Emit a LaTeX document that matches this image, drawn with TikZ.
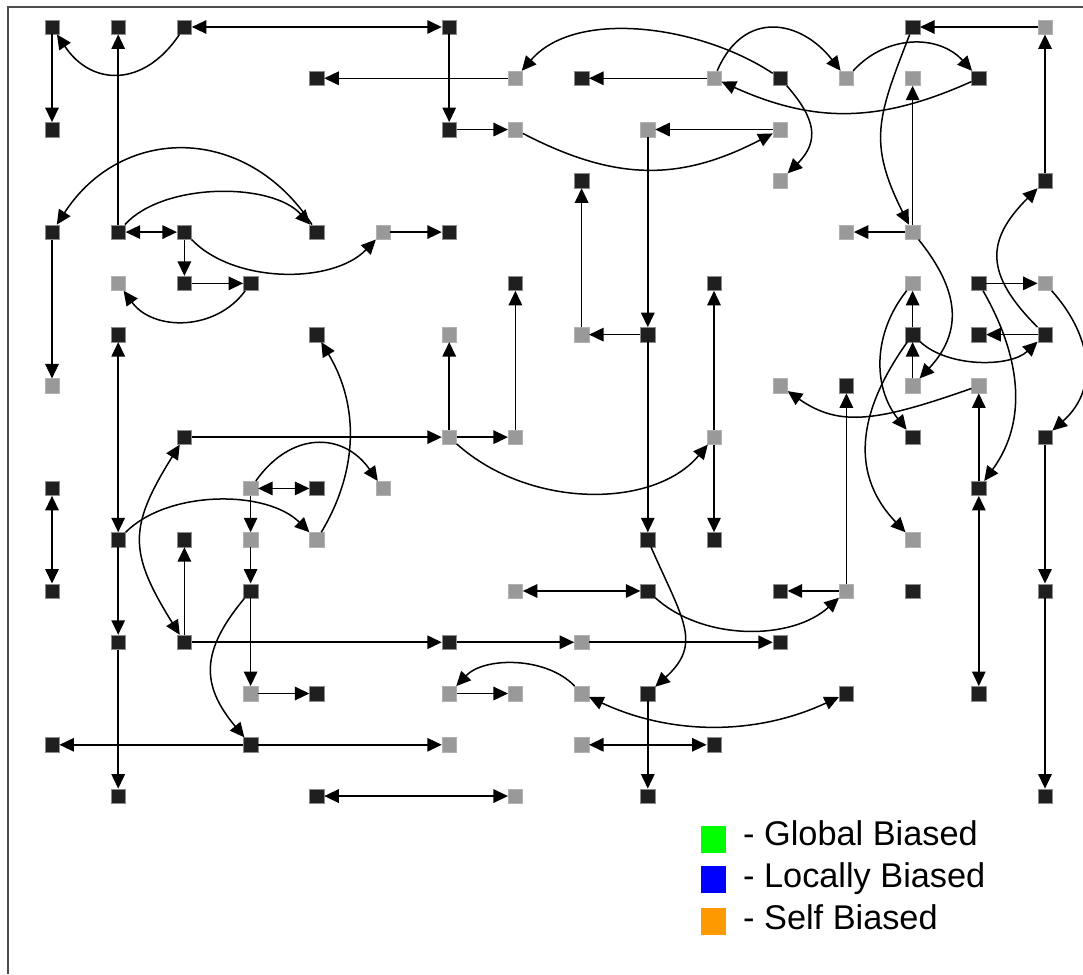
\documentclass[tikz,border=0pt]{standalone}
\usepackage{fontspec}
\setmainfont{Liberation Sans}
\usetikzlibrary{arrows.meta}
\tikzset{
  bk/.style={rectangle,fill=black!88,draw=black!45,line width=0.4pt,minimum size=14.5pt,inner sep=0pt},
  gy/.style={rectangle,fill=black!40,draw=black!30,line width=0.4pt,minimum size=14.5pt,inner sep=0pt},
  ar/.style={-{Triangle[length=14.5pt,width=13.5pt]},line width=1.5pt},
  br/.style={{Triangle[length=14.5pt,width=13.5pt]}-{Triangle[length=14.5pt,width=13.5pt]},line width=1.5pt},
  legsq/.style={rectangle,minimum width=25pt,minimum height=27pt,inner sep=0pt},
  legtx/.style={anchor=base west,inner sep=0pt,font=\fontsize{34.3}{40}\selectfont}
}
\begin{document}
\begin{tikzpicture}[x=1pt,y=-1pt]
\useasboundingbox (0,0) rectangle (1083,974);
\fill[white] (0,0) rectangle (1083,974);
\draw[black!70,line width=1.6pt] (1083,7) -- (8,7) -- (8,974);
% dark nodes
\foreach \c/\r in {0/0,1/0,2/0,6/0,13/0,
  4/1,8/1,11/1,14/1,
  0/2,6/2,
  8/3,15/3,
  0/4,1/4,2/4,4/4,6/4,
  2/5,3/5,7/5,10/5,14/5,
  1/6,4/6,9/6,13/6,14/6,15/6,
  12/7,
  2/8,13/8,15/8,
  0/9,4/9,14/9,
  1/10,2/10,9/10,10/10,
  0/11,3/11,9/11,11/11,13/11,15/11,
  1/12,2/12,6/12,11/12,
  4/13,9/13,12/13,14/13,
  0/14,3/14,10/14,
  1/15,4/15,9/15,15/15}
  \node[bk] (n\c-\r) at ({52+66.2*\c},{27+51.27*\r}) {};
% gray nodes
\foreach \c/\r in {15/0,
  7/1,10/1,12/1,13/1,
  7/2,9/2,11/2,
  11/3,
  5/4,12/4,13/4,
  1/5,13/5,15/5,
  6/6,8/6,
  0/7,11/7,13/7,14/7,
  6/8,7/8,10/8,
  3/9,5/9,
  3/10,4/10,13/10,
  7/11,12/11,
  8/12,
  3/13,6/13,7/13,8/13,
  6/14,8/14,
  7/15}
  \node[gy] (n\c-\r) at ({52+66.2*\c},{27+51.27*\r}) {};
% straight one-way
\foreach \a/\b in {0-0/0-2,1-4/1-0,7-1/4-1,6-0/6-2,6-2/7-2,2-4/2-5,5-4/6-4,0-4/0-7,
  2-5/3-5,2-8/6-8,3-9/3-10,1-10/1-12,2-12/2-10,3-10/3-11,3-11/3-13,3-13/4-13,
  2-12/6-12,6-12/8-12,8-12/11-12,3-14/0-14,3-14/6-14,1-12/1-15,6-13/7-13,9-13/9-15,
  6-8/6-6,6-8/7-8,7-8/7-5,9-6/8-6,8-6/8-3,9-2/9-6,9-6/9-10,10-8/10-5,10-8/10-10,
  11-2/9-2,10-1/8-1,15-0/13-0,15-3/15-0,13-4/13-1,13-4/12-4,14-5/15-5,15-6/14-6,
  13-6/13-5,13-7/13-6,12-11/12-7,14-9/14-7,15-8/15-11,15-11/15-15,12-11/11-11}
  \draw[ar] (n\a) -- (n\b);
% straight two-way
\foreach \a/\b in {2-0/6-0,1-4/2-4,1-6/1-10,3-9/4-9,0-9/0-11,4-15/7-15,7-11/9-11,8-14/10-14,14-9/14-13}
  \draw[br] (n\a) -- (n\b);
% curves
\draw[ar] (n2-0) .. controls +(-40,60) and +(40,60) .. (n0-0);
\draw[ar] (n4-4) .. controls +(-70,-108) and +(70,-108) .. (n0-4);
\draw[ar] (n1-4) .. controls +(45,-50) and +(-45,-50) .. (n4-4);
\draw[ar] (n2-4) .. controls +(50,52) and +(-50,52) .. (n5-4);
\draw[ar] (n3-5) .. controls +(-35,48) and +(35,48) .. (n1-5);
\draw[ar] (n4-10) .. controls +(42,-70) and +(42,70) .. (n4-6);
\draw[ar] (n3-9) .. controls +(40,-57) and +(-40,-57) .. (n5-9);
\draw[ar] (n1-10) .. controls +(50,-50) and +(-50,-50) .. (n4-10);
\draw[br] (n2-8) .. controls +(-56,90) and +(-56,-90) .. (n2-12);
\draw[ar] (n3-11) .. controls +(-50,60) and +(-50,-60) .. (n3-14);
\draw[ar] (n9-10) .. controls +(35,80) and +(55,-50) .. (n9-13);
\draw[ar] (n9-11) .. controls +(55,50) and +(-55,50) .. (n12-11);
\draw[br] (n8-13) .. controls +(90,42) and +(-90,42) .. (n12-13);
\draw[ar] (n8-13) .. controls +(-35,-37) and +(35,-37) .. (n6-13);
\draw[ar] (n6-8) .. controls +(80,72) and +(-60,72) .. (n10-8);
\draw[ar] (n7-2) .. controls +(100,52) and +(-100,52) .. (n11-2);
\draw[ar] (n11-1) .. controls +(-80,-53) and +(60,-70) .. (n7-1);
\draw[ar] (n10-1) .. controls +(30,-70) and +(-45,-58) .. (n12-1);
\draw[ar] (n14-1) .. controls +(-100,45) and +(100,45) .. (n10-1);
\draw[ar] (n11-1) .. controls +(35,40) and +(40,-40) .. (n11-3);
\draw[ar] (n12-1) .. controls +(40,-44) and +(-40,-44) .. (n14-1);
\draw[ar] (n13-0) .. controls +(-35,90) and +(-45,-90) .. (n13-4);
\draw[ar] (n13-4) .. controls +(40,50) and +(56,-60) .. (n13-7);
\draw[ar] (n13-5) .. controls +(-40,50) and +(-40,-50) .. (n13-8);
\draw[ar] (n13-6) .. controls +(-50,70) and +(-67,-70) .. (n13-10);
\draw[ar] (n13-6) .. controls +(35,33) and +(-35,33) .. (n15-6);
\draw[ar] (n14-7) .. controls +(-100,35) and +(60,42) .. (n11-7);
\draw[ar] (n14-5) .. controls +(40,70) and +(51,-70) .. (n14-9);
\draw[ar] (n15-5) .. controls +(45,50) and +(56,-50) .. (n15-8);
\draw[ar] (n15-6) .. controls +(-60,-60) and +(-60,60) .. (n15-3);
% legend
\node[legsq,fill={rgb,255:red,0;green,255;blue,0}] (lg1) at (713.5,839.5) {};
\node[legsq,fill={rgb,255:red,0;green,0;blue,255}] (lg2) at (713.5,879) {};
\node[legsq,fill={rgb,255:red,255;green,153;blue,0}] (lg3) at (713.5,921) {};
\node[legtx] (lt1) at (743,845) {- Global Biased};
\node[legtx] (lt2) at (743,887) {- Locally Biased};
\node[legtx] (lt3) at (743,929) {- Self Biased};
\end{tikzpicture}
\end{document}
